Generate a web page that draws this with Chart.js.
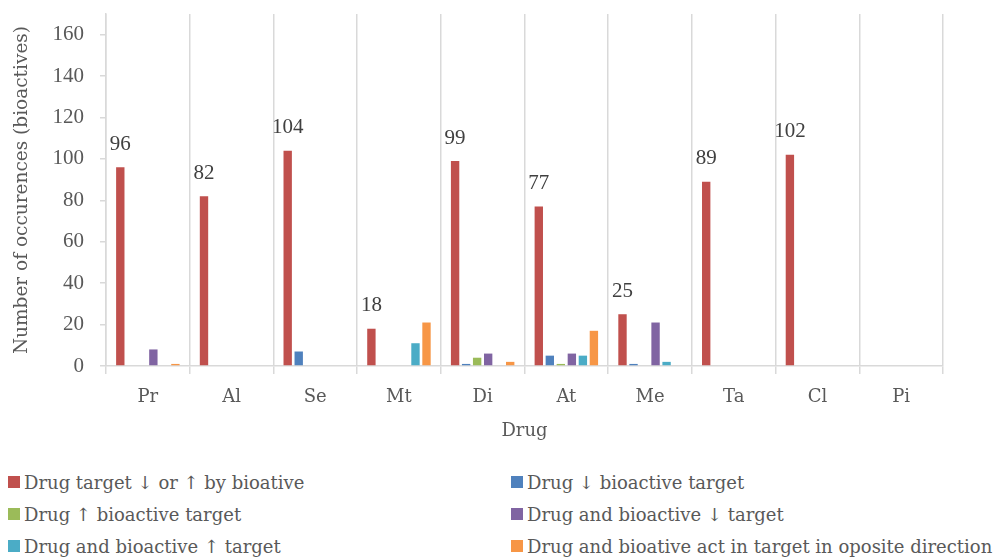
<!DOCTYPE html>
<html>
<head>
<meta charset="utf-8">
<script src="https://cdn.jsdelivr.net/npm/chart.js@4"></script>
<style>
  body { margin: 0; background: #fff; width: 1008px; height: 557px; overflow: hidden; position: relative; font-family: "DejaVu Serif", serif; }
  #wrap { position: absolute; left: 0; top: 0; width: 1008px; height: 460px; }
  #legend { position: absolute; left: 0; top: 466px; width: 1008px; }
  .item { position: absolute; display: flex; align-items: center; font-size: 18px; color: #595959; white-space: nowrap; height: 32px; }
  .box { width: 12px; height: 12px; margin-right: 4px; }
</style>
</head>
<body>
<div id="wrap"><canvas id="chart"></canvas></div>
<div id="legend"></div>
<script>
// --- Data ---
const drugs = ['Pr', 'Al', 'Se', 'Mt', 'Di', 'At', 'Me', 'Ta', 'Cl', 'Pi'];
const seriesNames = [
  'Drug target \u2193 or \u2191 by bioative',
  'Drug \u2193 bioactive target',
  'Drug \u2191 bioactive target',
  'Drug and bioactive \u2193 target',
  'Drug and bioactive \u2191 target',
  'Drug and bioative act in target in oposite direction'
];
const targetEither = [96, 82, 104, 18, 99, 77, 25, 89, 102, 0];
const drugDown = [0, 0, 7, 0, 1, 5, 1, 0, 0, 0];
const drugUp = [0, 0, 0, 0, 4, 1, 0, 0, 0, 0];
const bothDown = [8, 0, 0, 0, 6, 6, 21, 0, 0, 0];
const bothUp = [0, 0, 0, 11, 0, 5, 2, 0, 0, 0];
const opposite = [1, 0, 0, 21, 2, 17, 0, 0, 0, 0];
const colors = ['#C0504D', '#4F81BD', '#9BBB59', '#8064A2', '#4BACC6', '#F79646'];
const yTicks = [0, 20, 40, 60, 80, 100, 120, 140, 160];

const textColor = '#595959';
const lineColor = '#d9d9d9';
const textFont = '"DejaVu Serif", serif';
const numFont = '"Liberation Serif", serif';

const seriesData = [targetEither, drugDown, drugUp, bothDown, bothUp, opposite];

// labels above the first series
const valueLabels = {
  id: 'valueLabels',
  afterDatasetsDraw(chart) {
    const ctx = chart.ctx;
    const meta = chart.getDatasetMeta(0);
    ctx.save();
    ctx.font = '21px ' + numFont;
    ctx.fillStyle = '#404040';
    ctx.textAlign = 'center';
    ctx.textBaseline = 'middle';
    meta.data.forEach((bar, i) => {
      const v = targetEither[i];
      if (!v) return;
      ctx.fillText(String(v), bar.x, bar.y - 23);
    });
    ctx.restore();
  }
};

const chart = new Chart(document.getElementById('chart'), {
  type: 'bar',
  data: {
    labels: drugs,
    datasets: seriesData.map((d, i) => ({
      label: seriesNames[i],
      data: d,
      backgroundColor: colors[i],
      categoryPercentage: 0.79,
      barPercentage: 0.76
    }))
  },
  options: {
    responsive: true,
    maintainAspectRatio: false,
    animation: false,
    layout: { padding: { top: 14, right: 65, left: 0, bottom: 0 } },
    plugins: { legend: { display: false }, tooltip: { enabled: false } },
    scales: {
      x: {
        afterFit: s => { s.height = 94; s.paddingLeft = 0; s.paddingRight = 0; },
        grid: { color: lineColor, lineWidth: 1.5, tickLength: 8, offset: true },
        border: { color: lineColor, width: 1.5 },
        ticks: { color: textColor, font: { family: textFont, size: 18 }, padding: 13 },
        title: { display: true, text: 'Drug', color: textColor, font: { family: textFont, size: 18 }, padding: { bottom: 18 } }
      },
      y: {
        min: 0,
        max: 170,
        afterFit: s => { s.width = 106; s.paddingTop = 0; s.paddingBottom = 0; },
        afterBuildTicks: s => { s.ticks = yTicks.map(v => ({ value: v })); },
        grid: { drawOnChartArea: false, color: lineColor, lineWidth: 1.5, tickLength: 6 },
        border: { color: lineColor, width: 1.5 },
        ticks: { color: textColor, font: { family: numFont, size: 21 }, padding: 16 },
        title: { display: true, text: 'Number of occurences (bioactives)', color: textColor, font: { family: textFont, size: 18.5 }, padding: { top: 11 } }
      }
    }
  },
  plugins: [valueLabels]
});

// two-column legend
const legend = document.getElementById('legend');
const legendPos = [[8, 0], [511, 0], [8, 32], [511, 32], [8, 64], [511, 64]];
seriesNames.forEach((name, i) => {
  const el = document.createElement('div');
  el.className = 'item';
  el.style.left = legendPos[i][0] + 'px';
  el.style.top = legendPos[i][1] + 'px';
  el.innerHTML = `<span class="box" style="background:${colors[i]}"></span><span></span>`;
  el.lastChild.textContent = name;
  legend.appendChild(el);
});
</script>
</body>
</html>
